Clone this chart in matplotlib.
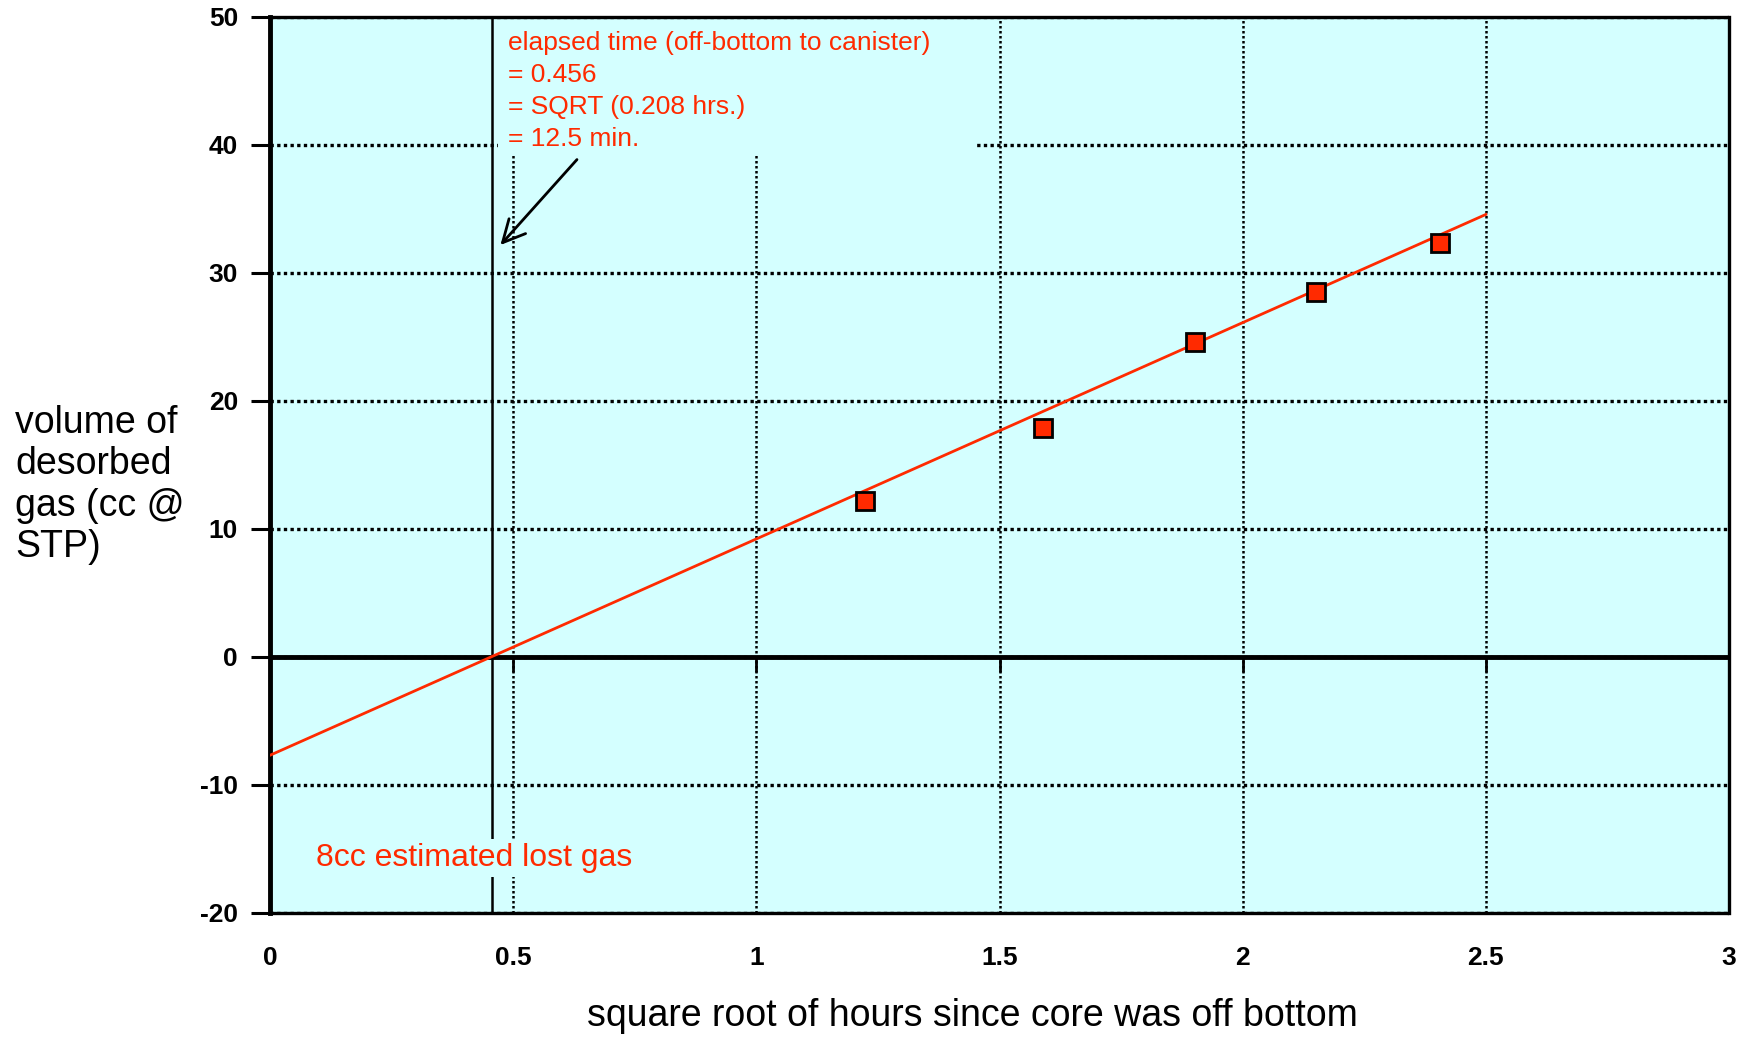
import numpy as np
import matplotlib
matplotlib.use("Agg")
import matplotlib.pyplot as plt
from matplotlib.patches import Rectangle

plt.rcParams['font.family'] = ['Liberation Sans', 'DejaVu Sans']
plt.rcParams['axes.unicode_minus'] = False

# desorption readings: sqrt(hours since off bottom) vs cc of gas at STP
sqrt_hours = [1.224, 1.589, 1.902, 2.151, 2.406]
gas_cc = [12.2, 17.9, 24.6, 28.5, 32.3]

# straight-line extrapolation back to zero
fit_intercept = -7.7
fit_slope = 16.9
fit_x_end = 2.5
lost_time = 0.456

x_ticks = [0, 0.5, 1, 1.5, 2, 2.5, 3]
x_tick_labels = ["0", "0.5", "1", "1.5", "2", "2.5", "3"]
y_ticks = [-20, -10, 0, 10, 20, 30, 40, 50]

RED = "#ff2a00"
CYAN = "#d4ffff"

fig = plt.figure(figsize=(17.41, 10.37), dpi=100)
ax = fig.add_axes([270 / 1741, 1 - 912.7 / 1037, 1459 / 1741, 896 / 1037])
ax.set_facecolor(CYAN)
ax.set_xlim(0, 3)
ax.set_ylim(-20, 50)

# dotted grid, horizontal lines a bit heavier
ax.set_axisbelow(True)
ax.yaxis.grid(True, color="black", linestyle=(0, (1, 1)), linewidth=2.4)
ax.xaxis.grid(True, color="black", linestyle=(0, (1, 1)), linewidth=1.8)

for side in ["top", "right", "bottom"]:
    ax.spines[side].set_linestyle((0, (1, 1)))
    ax.spines[side].set_linewidth(2.4)
ax.spines["left"].set_linewidth(3.5)

ax.set_xticks(x_ticks)
ax.set_xticklabels(x_tick_labels)
ax.set_yticks(y_ticks)
ax.tick_params(axis="x", length=0, pad=24, labelsize=19)
ax.tick_params(axis="y", length=14, width=2.2, pad=9, labelsize=19)
for lbl in ax.get_xticklabels() + ax.get_yticklabels():
    lbl.set_fontweight("bold")

# zero line with its own little ticks
ax.axhline(0, color="black", linewidth=3.5, zorder=2)
ax.vlines(x_ticks[1:], -1.2, 0, color="black", linewidth=2, zorder=2)

# time the core spent off bottom
ax.axvline(lost_time, color="black", linewidth=1.8, zorder=2)

fx = np.array([0, fit_x_end])
ax.plot(fx, fit_intercept + fit_slope * fx, color=RED, linewidth=2, zorder=3)

ax.plot(sqrt_hours, gas_cc, linestyle="none", marker="s", markersize=13,
        markerfacecolor=RED, markeredgecolor="black", markeredgewidth=2, zorder=4)

# blank panel behind the note, it hides the grid but not the frame
ax.add_patch(Rectangle((0.468, 39.1), 0.982, 10.6, facecolor=CYAN,
                       edgecolor="none", zorder=1))
ax.text(0.489, 48.9,
        "elapsed time (off-bottom to canister)\n= 0.456\n= SQRT (0.208 hrs.)\n= 12.5 min.",
        color=RED, fontsize=19, ha="left", va="top", linespacing=1.43, zorder=5)

ax.annotate("", xy=(0.47, 32.0), xytext=(0.635, 39.0),
            arrowprops=dict(arrowstyle="->", color="black", lw=2, mutation_scale=40),
            zorder=5)

ax.text(0.094, -15.7, "8cc estimated lost gas", color=RED, fontsize=23,
        ha="left", va="center", zorder=5,
        bbox=dict(facecolor=CYAN, edgecolor="none", pad=3))

fig.text(972 / 1741, 1 - 1016 / 1037, "square root of hours since core was off bottom",
         fontsize=27, ha="center", va="center")
fig.text(15 / 1741, 1 - 485 / 1037, "volume of\ndesorbed\ngas (cc @\nSTP)",
         fontsize=27, ha="left", va="center", linespacing=1.2)

fig.savefig("out.png", dpi=100)
